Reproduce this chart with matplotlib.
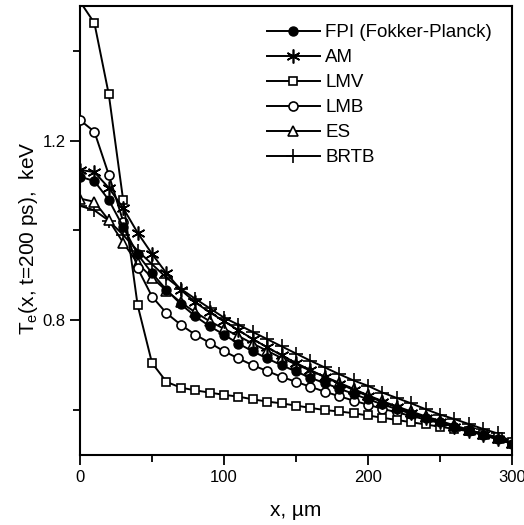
import numpy as np
import matplotlib
matplotlib.use("Agg")
import matplotlib.pyplot as plt
from matplotlib.ticker import MultipleLocator

plt.rcParams['font.family'] = ['Liberation Sans', 'DejaVu Sans']
plt.rcParams['mathtext.default'] = 'regular'

# posição x (µm), marcadores a cada 10 µm
x = list(range(0, 301, 10))

fpi = [1.120, 1.110, 1.068, 1.008, 0.947, 0.905, 0.868, 0.836, 0.809, 0.787,
       0.768, 0.748, 0.731, 0.715, 0.700, 0.686, 0.672, 0.660, 0.648, 0.636,
       0.624, 0.613, 0.602, 0.592, 0.582, 0.573, 0.563, 0.554, 0.545, 0.536, 0.525]
am = [1.135, 1.130, 1.095, 1.050, 0.995, 0.948, 0.905, 0.868, 0.840, 0.818,
      0.798, 0.778, 0.758, 0.740, 0.722, 0.705, 0.689, 0.674, 0.659, 0.645,
      0.631, 0.618, 0.606, 0.594, 0.583, 0.573, 0.563, 0.553, 0.544, 0.535, 0.525]
lmv = [1.510, 1.462, 1.303, 1.067, 0.834, 0.705, 0.663, 0.650, 0.644, 0.639,
       0.634, 0.630, 0.624, 0.619, 0.615, 0.610, 0.605, 0.600, 0.597, 0.593,
       0.588, 0.583, 0.578, 0.573, 0.568, 0.563, 0.558, 0.553, 0.547, 0.540, 0.528]
lmb = [1.246, 1.220, 1.124, 1.020, 0.916, 0.853, 0.816, 0.790, 0.768, 0.750,
       0.731, 0.715, 0.700, 0.687, 0.674, 0.663, 0.652, 0.641, 0.631, 0.621,
       0.612, 0.603, 0.595, 0.587, 0.579, 0.571, 0.563, 0.555, 0.547, 0.538, 0.528]
es = [1.071, 1.064, 1.023, 0.973, 0.927, 0.895, 0.866, 0.840, 0.818, 0.798,
      0.781, 0.765, 0.748, 0.732, 0.716, 0.702, 0.688, 0.674, 0.661, 0.647,
      0.633, 0.620, 0.608, 0.597, 0.586, 0.576, 0.566, 0.556, 0.547, 0.537, 0.527]
brtb = [1.055, 1.045, 1.022, 0.990, 0.955, 0.925, 0.895, 0.870, 0.848, 0.827,
        0.806, 0.790, 0.774, 0.758, 0.742, 0.726, 0.710, 0.695, 0.680, 0.666,
        0.654, 0.639, 0.627, 0.615, 0.602, 0.590, 0.580, 0.569, 0.558, 0.548, 0.528]

fig = plt.figure(figsize=(5.24, 5.25), dpi=100)
ax = fig.add_axes([80 / 524, 1 - 455 / 525, 432 / 524, 449 / 525])

lw = 1.4
ax.plot(x, fpi, '-', color='k', lw=lw, marker='o', ms=6.5, mfc='k', mec='k',
        label='FPI (Fokker-Planck)', zorder=6)
ax.plot(x, am, '-', color='k', lw=lw, marker=(6, 2, 0), ms=10, mec='k', mew=1.2,
        label='AM', zorder=5)
ax.plot(x, lmv, '-', color='k', lw=lw, marker='s', ms=6, mfc='white', mec='k', mew=1.2,
        label='LMV', zorder=4)
ax.plot(x, lmb, '-', color='k', lw=lw, marker='o', ms=6.5, mfc='white', mec='k', mew=1.2,
        label='LMB', zorder=3)
ax.plot(x, es, '-', color='k', lw=lw, marker='^', ms=7.5, mfc='white', mec='k', mew=1.2,
        label='ES', zorder=2)
ax.plot(x, brtb, '-', color='k', lw=lw, marker='+', ms=10, mec='k', mew=1.2,
        label='BRTB', zorder=1)

ax.set_xlim(0, 300)
ax.set_ylim(0.5, 1.5)
ax.xaxis.set_major_locator(MultipleLocator(100))
ax.xaxis.set_minor_locator(MultipleLocator(50))
ax.yaxis.set_major_locator(MultipleLocator(0.4))
ax.yaxis.set_minor_locator(MultipleLocator(0.2))
ax.tick_params(which='both', direction='out', width=1.3, labelsize=12)
ax.tick_params(which='major', length=7)
ax.tick_params(which='minor', length=5)
for s in ax.spines.values():
    s.set_linewidth(1.5)

ax.set_xlabel('x, \u00b5m', fontsize=15)
ax.set_ylabel('T$_e$(x, t=200 ps),  keV', fontsize=15)
ax.xaxis.set_label_coords(0.5, -0.102)
ax.yaxis.set_label_coords(-0.092, 0.483)

ax.legend(loc='upper left', bbox_to_anchor=(267 / 524, 1 - 24 / 525),
          bbox_transform=fig.transFigure, frameon=False, borderaxespad=0,
          borderpad=0, fontsize=13.5, handlelength=2.8, handletextpad=0.3,
          labelspacing=0.42, numpoints=1)

fig.savefig('out.png', dpi=100)
